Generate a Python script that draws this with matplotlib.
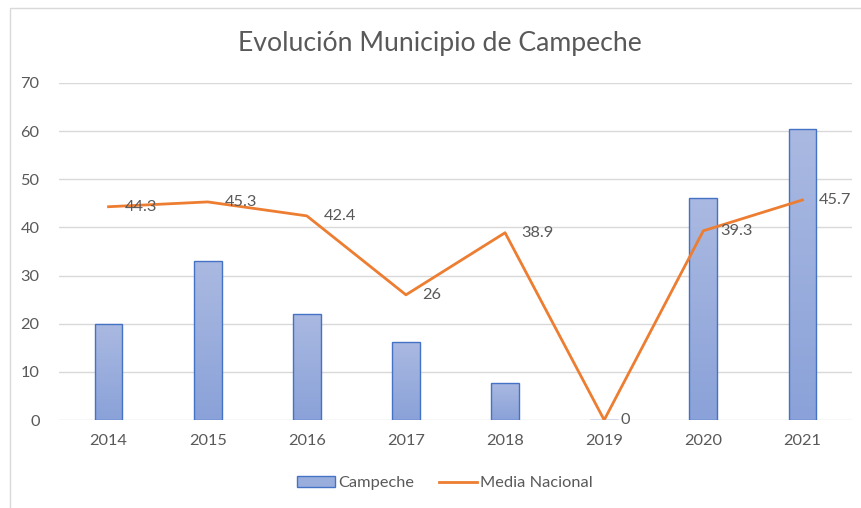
import numpy as np
import matplotlib.pyplot as plt
from matplotlib.patches import Rectangle
from matplotlib.lines import Line2D
from matplotlib.colors import LinearSegmentedColormap

plt.rcParams["font.family"] = ["Lato", "DejaVu Sans"]

years = ["2014", "2015", "2016", "2017", "2018", "2019", "2020", "2021"]
campeche = [20.0, 33.0, 22.1, 16.2, 7.7, 0.0, 46.1, 60.4]
media_nacional = [44.3, 45.3, 42.4, 26, 38.9, 0, 39.3, 45.7]
label_text = ["44.3", "45.3", "42.4", "26", "38.9", "0", "39.3", "45.7"]

C_TEXT = "#595959"
C_GRID = "#d9d9d9"
C_BAR_EDGE = "#4472c4"
C_LINE = "#ed7d31"
FS = 11.8
CX = 440 / 862  # horizontal centre of the chart frame

fig = plt.figure(figsize=(8.62, 5.08), dpi=100)
ax = fig.add_axes([59 / 862, 1 - 420 / 508, (852 - 59) / 862, (420 - 83) / 508])

# chart frame
fig.patches.append(Rectangle((10 / 862, -0.01), 1.1, 1 - 8 / 508 + 0.01,
                             transform=fig.transFigure, fill=False,
                             edgecolor=C_GRID, linewidth=1.0))

x = np.arange(len(years))
bw = 0.28
bars = ax.bar(x, campeche, width=bw, color="none", edgecolor=C_BAR_EDGE,
              linewidth=1.0, zorder=3)

# vertical gradient fill inside each bar
grad = np.linspace(0, 1, 256).reshape(-1, 1)
cmap = LinearSegmentedColormap.from_list("bar", ["#8aa2d9", "#aab9e1"])
for b in bars:
    h = b.get_height()
    if h <= 0:
        continue
    im = ax.imshow(grad, cmap=cmap, origin="lower", aspect="auto",
                   extent=(b.get_x(), b.get_x() + bw, 0, h), zorder=2)
    im.set_clip_path(b)

ax.plot(x, media_nacional, color=C_LINE, linewidth=2.0, zorder=4)
for xi, yi, t in zip(x, media_nacional, label_text):
    ax.annotate(t, (xi, yi), textcoords="offset points", xytext=(12, 0),
                ha="left", va="center", fontsize=FS, color=C_TEXT, zorder=5)

ax.set_xlim(-0.5, len(years) - 0.5)
ax.set_ylim(0, 70)
ax.set_yticks(range(0, 71, 10))
ax.set_xticks(x)
ax.set_xticklabels(years)
ax.tick_params(length=0, labelsize=FS, colors=C_TEXT, pad=10)
ax.tick_params(axis="y", pad=14)
ax.grid(axis="y", color=C_GRID, linewidth=1.0, zorder=0)
ax.set_axisbelow(True)
for s in ax.spines.values():
    s.set_visible(False)

fig.text(CX, 1 - 43 / 508, "Evolución Municipio de Campeche", ha="center",
         va="center", fontsize=19.2, color=C_TEXT)

handles = [
    Rectangle((0, 0), 1, 1, facecolor="#9aaede", edgecolor=C_BAR_EDGE, linewidth=1.0),
    Line2D([0], [0], color=C_LINE, linewidth=2.0),
]
fig.legend(handles, ["Campeche", "Media Nacional"], loc="center",
           bbox_to_anchor=(CX + 5 / 862, 1 - 483 / 508), ncol=2, frameon=False,
           fontsize=FS, labelcolor=C_TEXT, handlelength=2.3,
           handletextpad=0.2, columnspacing=1.5)

fig.savefig("out.png", dpi=100)
